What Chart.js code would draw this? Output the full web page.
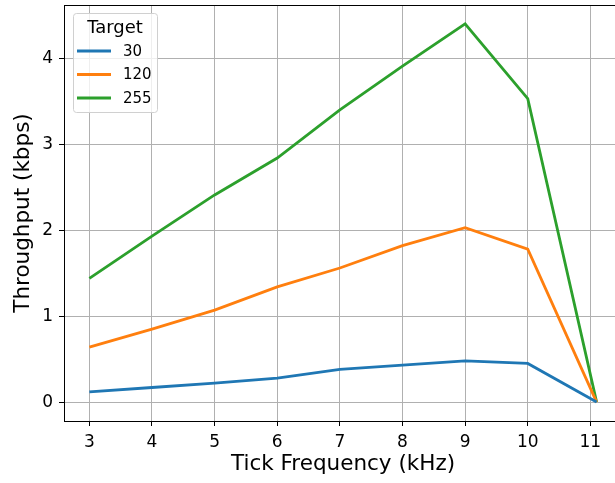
<!DOCTYPE html>
<html>
<head>
<meta charset="utf-8">
<script src="https://cdn.jsdelivr.net/npm/chart.js@4/dist/chart.umd.min.js"></script>
<style>
  html, body { margin: 0; padding: 0; background: #fff; overflow: hidden; }
  #wrap { width: 615px; height: 483px; overflow: hidden; }
</style>
</head>
<body>
<div id="wrap"><canvas id="chartViz" width="625" height="483"></canvas></div>
<script>
// tick frequency in kHz
var freqs = [3, 4, 5, 6, 7, 8, 9, 10, 11.1];
var targets = ["30", "120", "255"];
var tput30 = [0.12, 0.17, 0.22, 0.28, 0.38, 0.43, 0.48, 0.45, 0.0];
var tput120 = [0.64, 0.85, 1.07, 1.34, 1.56, 1.82, 2.03, 1.78, 0.0];
var tput255 = [1.44, 1.93, 2.41, 2.84, 3.40, 3.91, 4.40, 3.53, 0.0];
var xTicks = [3, 4, 5, 6, 7, 8, 9, 10, 11];
var yTicks = [0, 1, 2, 3, 4];
var colors = ["#1f77b4", "#ff7f0e", "#2ca02c"];

var FONT = "'DejaVu Sans', sans-serif";

function toPoints(ys) {
    return ys.map(function (y, i) { return { x: freqs[i], y: y }; });
}

// matplotlib-style box around the plot plus a legend in the top-left corner
var framePlugin = {
    id: "frame",
    afterDraw: function (chart) {
        var ctx = chart.ctx;
        var a = chart.chartArea;
        ctx.save();
        ctx.strokeStyle = "#000";
        ctx.lineWidth = 1;
        ctx.strokeRect(Math.round(a.left) + 0.5, Math.round(a.top) + 0.5,
                       Math.round(a.right - a.left), Math.round(a.bottom - a.top));

        // legend
        var bx = 73, by = 13, bw = 84, bh = 99;
        ctx.beginPath();
        ctx.roundRect(bx + 0.5, by + 0.5, bw, bh, 3);
        ctx.fillStyle = "rgba(255,255,255,0.8)";
        ctx.fill();
        ctx.strokeStyle = "#d0d0d0";
        ctx.stroke();
        ctx.fillStyle = "#000";
        ctx.textBaseline = "middle";
        ctx.textAlign = "center";
        ctx.font = "18px " + FONT;
        ctx.fillText("Target", bx + bw / 2, by + 15);
        ctx.textAlign = "left";
        ctx.font = "15px " + FONT;
        chart.data.datasets.forEach(function (ds, i) {
            var yy = by + 38 + i * 23.5;
            ctx.strokeStyle = ds.borderColor;
            ctx.lineWidth = 2.8;
            ctx.beginPath();
            ctx.moveTo(bx + 4, yy);
            ctx.lineTo(bx + 38, yy);
            ctx.stroke();
            ctx.fillStyle = "#000";
            ctx.fillText(ds.label, bx + 50, yy + 1);
        });
        ctx.restore();
    }
};

var datasets = [tput30, tput120, tput255].map(function (ys, i) {
    return {
        label: targets[i],
        data: toPoints(ys),
        borderColor: colors[i],
        backgroundColor: colors[i],
        borderWidth: 2.8,
        pointRadius: 0,
        fill: false,
        tension: 0
    };
});

var config = {
    type: "line",
    data: { datasets: datasets },
    plugins: [framePlugin],
    options: {
        responsive: false,
        animation: false,
        layout: { padding: { top: 5, right: 3, left: 0, bottom: 0 } },
        plugins: { legend: { display: false }, tooltip: { enabled: false } },
        scales: {
            x: {
                type: "linear",
                min: 2.595,
                max: 11.505,
                afterBuildTicks: function (scale) {
                    scale.ticks = xTicks.map(function (v) { return { value: v }; });
                },
                afterFit: function (scale) {
                    scale.height = 62;
                    scale.paddingLeft = 0;
                    scale.paddingRight = 0;
                },
                grid: { color: "#b0b0b0", lineWidth: 1, tickColor: "#000", tickLength: 5 },
                border: { display: false },
                ticks: { color: "#000", font: { family: FONT, size: 17 }, padding: 6, maxRotation: 0 },
                title: { display: true, text: "Tick Frequency (kHz)", color: "#000",
                         font: { family: FONT, size: 21.5 }, padding: { top: 0, bottom: 6 } }
            },
            y: {
                min: -0.22,
                max: 4.62,
                afterBuildTicks: function (scale) {
                    scale.ticks = yTicks.map(function (v) { return { value: v }; });
                },
                afterFit: function (scale) {
                    scale.width = 64;
                    scale.paddingTop = 0;
                    scale.paddingBottom = 0;
                },
                grid: { color: "#b0b0b0", lineWidth: 1, tickColor: "#000", tickLength: 5 },
                border: { display: false },
                ticks: { color: "#000", font: { family: FONT, size: 17 }, padding: 6 },
                title: { display: true, text: "Throughput (kbps)", color: "#000",
                         font: { family: FONT, size: 21.5 }, padding: { top: 11, bottom: 0 } }
            }
        }
    }
};

new Chart(document.getElementById("chartViz").getContext("2d"), config);
</script>
</body>
</html>
